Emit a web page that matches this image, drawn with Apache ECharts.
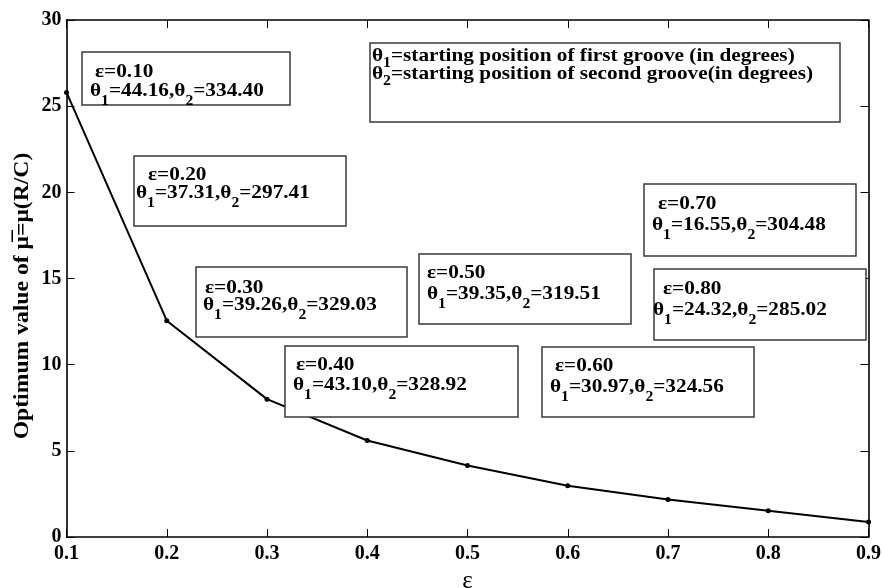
<!DOCTYPE html>
<html>
<head>
<meta charset="utf-8">
<script src="https://cdn.jsdelivr.net/npm/echarts@6/dist/echarts.min.js"></script>
<style>
  html, body { margin: 0; padding: 0; background: #ffffff; }
  #chart { width: 883px; height: 588px; }
</style>
</head>
<body>
<div id="chart"></div>
<script>
// Eccentricity ratio values (x axis)
const epsilon = [0.1, 0.2, 0.3, 0.4, 0.5, 0.6, 0.7, 0.8, 0.9];
// Optimum value of the stiffness-like parameter mu-bar
const muOptimum = [25.8, 12.55, 8.0, 5.6, 4.15, 2.98, 2.17, 1.53, 0.87];

// Groove starting positions (degrees) for each annotated eccentricity
const noteEps = [0.10, 0.20, 0.30, 0.40, 0.50, 0.60, 0.70, 0.80];
const noteTheta1 = ['44.16', '37.31', '39.26', '43.10', '39.35', '30.97', '16.55', '24.32'];
const noteTheta2 = ['334.40', '297.41', '329.03', '328.92', '319.51', '324.56', '304.48', '285.02'];

// Layout of the annotation boxes: [left, top, right, bottom, line1 x, line1 y, line2 x, line2 y]
const noteBoxes = [
  [82, 52, 290, 105, 95, 71, 90, 90],
  [134, 156, 346, 226, 148, 174, 136, 192],
  [196, 267, 407, 337, 205, 287, 203, 304],
  [285, 346, 518, 417, 296, 364, 293, 384],
  [419, 254, 631, 324, 427, 272, 427, 293],
  [542, 347, 754, 417, 555, 365, 550, 386],
  [644, 184, 856, 256, 658, 203, 652, 224],
  [654, 269, 866, 340, 663, 288, 653, 309]
];

const legendLines = [
  ['θ', '1', '=starting position of first groove (in degrees)'],
  ['θ', '2', '=starting position of second groove(in degrees)']
];

const SERIF = '"Liberation Serif", "Times New Roman", serif';
const TEXT_SCALE_X = 1.12;

const richStyles = {
  m: { fontSize: 19, fontWeight: 'bold', fontFamily: SERIF, color: '#000', verticalAlign: 'top', lineHeight: 22 },
  s: { fontSize: 14, fontWeight: 'bold', fontFamily: SERIF, color: '#000', verticalAlign: 'top', padding: [12, 0, 0, 0] },
  lm: { fontSize: 19, fontWeight: 'bold', fontFamily: SERIF, color: '#000', verticalAlign: 'top', lineHeight: 22 },
  ls: { fontSize: 14, fontWeight: 'bold', fontFamily: SERIF, color: '#000', verticalAlign: 'top', padding: [9, 0, 0, 0] }
};

function thetaLine(t1, t2) {
  return '{m|θ}{s|1}{m|=' + t1 + ',θ}{s|2}{m|=' + t2 + '}';
}

const graphics = [];

noteBoxes.forEach(function (b, i) {
  graphics.push({
    type: 'rect',
    shape: { x: b[0], y: b[1], width: b[2] - b[0], height: b[3] - b[1] },
    style: { fill: '#ffffff', stroke: '#3a3a3a', lineWidth: 1.5 },
    z: 10
  });
  graphics.push({
    type: 'text',
    x: b[4], y: b[5] + 1, scaleX: TEXT_SCALE_X,
    style: {
      x: 0, y: 0,
      text: 'ε=' + noteEps[i].toFixed(2),
      font: 'bold 19px ' + SERIF,
      fill: '#000',
      align: 'left', verticalAlign: 'middle'
    },
    z: 11
  });
  graphics.push({
    type: 'text',
    x: b[6], y: b[7] - 8, scaleX: TEXT_SCALE_X,
    style: {
      x: 0, y: 0,
      text: thetaLine(noteTheta1[i], noteTheta2[i]),
      rich: richStyles,
      align: 'left', verticalAlign: 'top'
    },
    z: 11
  });
});

// Legend explaining theta1 / theta2
graphics.push({
  type: 'rect',
  shape: { x: 370, y: 43, width: 470, height: 79 },
  style: { fill: '#ffffff', stroke: '#3a3a3a', lineWidth: 1.5 },
  z: 10
});
legendLines.forEach(function (ln, i) {
  graphics.push({
    type: 'text',
    x: 372, y: 55 + i * 18 - 8, scaleX: TEXT_SCALE_X,
    style: {
      x: 0, y: 0,
      text: '{lm|' + ln[0] + '}{ls|' + ln[1] + '}{lm|' + ln[2] + '}',
      rich: richStyles,
      align: 'left', verticalAlign: 'top'
    },
    z: 11
  });
});

// Rotated y-axis title
graphics.push({
  type: 'text',
  x: 22, y: 296, rotation: Math.PI / 2, scaleX: 1.1,
  style: {
    x: 0, y: 0,
    text: 'Optimum value of μ\u0305=μ(R/C)',
    font: 'bold 21.5px ' + SERIF,
    fill: '#000',
    align: 'center', verticalAlign: 'middle'
  },
  z: 11
});

const axisLabelStyle = { color: '#000', fontFamily: SERIF, fontWeight: 'bold', fontSize: 20 };
const frameLine = { show: true, onZero: false, lineStyle: { color: '#000', width: 1.6 } };

const chart = echarts.init(document.getElementById('chart'), null, { renderer: 'canvas' });
chart.setOption({
  animation: false,
  backgroundColor: '#ffffff',
  grid: {
    left: 66.5, right: 14.5, top: 20, bottom: 51,
    containLabel: false, outerBoundsMode: 'none',
    show: true, backgroundColor: '#ffffff', borderWidth: 0
  },
  xAxis: [
    {
      type: 'value', min: 0.1, max: 0.9, interval: 0.1, position: 'bottom',
      name: 'ε', nameLocation: 'middle', nameGap: 18,
      nameTextStyle: { color: '#000', fontFamily: SERIF, fontSize: 25 },
      axisLine: frameLine,
      axisTick: { show: true, inside: true, length: 8, lineStyle: { color: '#000', width: 1 } },
      axisLabel: Object.assign({ margin: 7, formatter: function (v) { return v.toFixed(1); } }, axisLabelStyle),
      splitLine: { show: false }
    },
    {
      type: 'value', min: 0.1, max: 0.9, interval: 0.1, position: 'top',
      axisLine: frameLine,
      axisTick: { show: true, inside: true, length: 8, lineStyle: { color: '#000', width: 1 } },
      axisLabel: { show: false },
      splitLine: { show: false }
    }
  ],
  yAxis: [
    {
      type: 'value', min: 0, max: 30, interval: 5, position: 'left',
      axisLine: frameLine,
      axisTick: { show: true, inside: true, length: 8, lineStyle: { color: '#000', width: 1 } },
      axisLabel: Object.assign({ margin: 5 }, axisLabelStyle),
      splitLine: { show: false }
    },
    {
      type: 'value', min: 0, max: 30, interval: 5, position: 'right',
      axisLine: frameLine,
      axisTick: { show: true, inside: true, length: 8, lineStyle: { color: '#000', width: 1 } },
      axisLabel: { show: false },
      splitLine: { show: false }
    }
  ],
  series: [
    {
      type: 'line',
      xAxisIndex: 0, yAxisIndex: 0,
      data: epsilon.map(function (x, i) { return [x, muOptimum[i]]; }),
      symbol: 'circle', symbolSize: 5,
      itemStyle: { color: '#000' },
      lineStyle: { color: '#000', width: 2 },
      z: 5
    }
  ],
  graphic: graphics
});
</script>
</body>
</html>
